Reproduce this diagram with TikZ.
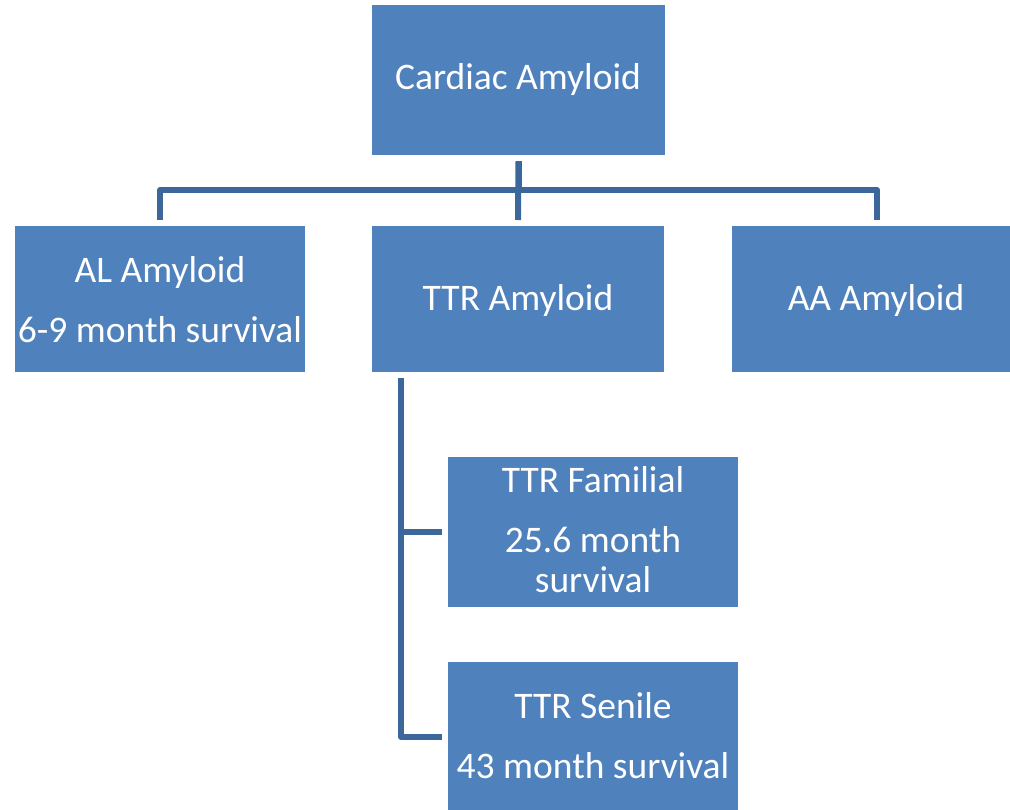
\documentclass[tikz,border=0pt]{standalone}
\usepackage{fontspec}
\setmainfont{Carlito}
\definecolor{boxblue}{HTML}{4F81BD}
\definecolor{linkblue}{HTML}{3B679B}
\begin{document}
\begin{tikzpicture}[x=1pt,y=-1pt,
  box/.style={fill=boxblue, draw=none, inner sep=0pt, outer sep=0pt, anchor=north west},
  txt/.style={text=white, anchor=base, inner sep=0pt, font=\fontsize{37.5}{45}\selectfont},
  link/.style={draw=linkblue, line width=6pt, line join=round, shorten <=6.5pt, shorten >=6pt}]
\useasboundingbox (0,0) rectangle (1010,810);
\clip (0,0) rectangle (1010,810);
% boxes
\node[box, minimum width=293pt, minimum height=150pt] (cardiac) at (372,5) {};
\node[box, minimum width=290pt, minimum height=146pt] (al) at (15,226) {};
\node[box, minimum width=292pt, minimum height=146pt] (ttr) at (372,226) {};
\node[box, minimum width=290pt, minimum height=146pt] (aa) at (732,226) {};
\node[box, minimum width=290pt, minimum height=150pt] (familial) at (448,457) {};
\node[box, minimum width=290pt, minimum height=150pt] (senile) at (448,662) {};
% texts
\node[txt] (cardiac-t) at (518,90) {Cardiac Amyloid};
\node[txt] (al-t1) at (160,283) {AL Amyloid};
\node[txt] (al-t2) at (160,343) {6-9 month survival};
\node[txt] (ttr-t) at (518,311) {TTR Amyloid};
\node[txt] (aa-t) at (876,311) {AA Amyloid};
\node[txt] (familial-t1) at (593,492) {TTR Familial};
\node[txt] (familial-t2) at (593,552) {25.6 month};
\node[txt] (familial-t3) at (593,592) {survival};
\node[txt] (senile-t1) at (593,718) {TTR Senile};
\node[txt] (senile-t2) at (593,778) {43 month survival};
% connectors
\draw[link] (cardiac.south) -- ++(0,35) -| (al.north);
\draw[link] (cardiac.south) -- (ttr.north);
\draw[link] (cardiac.south) -- ++(0,35) -| (aa.north);
\draw[link] ([xshift=29pt]ttr.south west) |- (familial.west);
\draw[link] ([xshift=29pt]ttr.south west) |- (senile.west);
\end{tikzpicture}
\end{document}
